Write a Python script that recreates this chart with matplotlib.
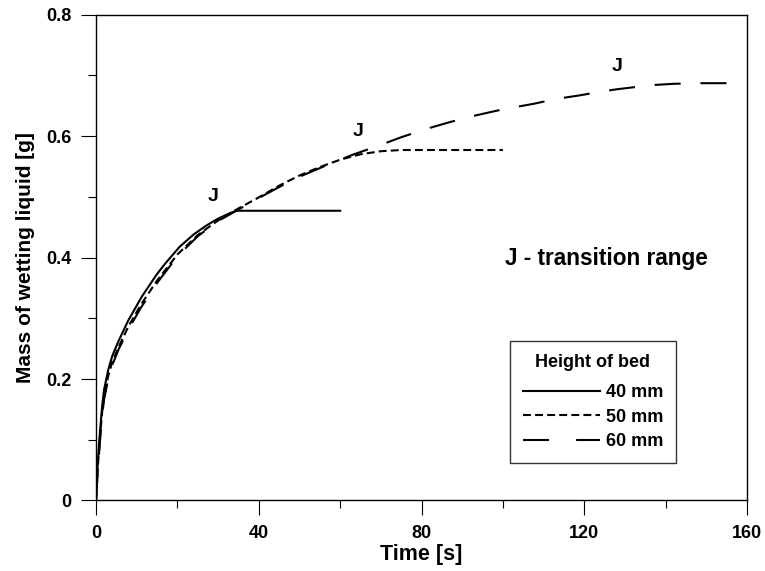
import matplotlib
matplotlib.use("Agg")
import matplotlib.pyplot as plt
from matplotlib.ticker import MultipleLocator, FuncFormatter
from matplotlib.lines import Line2D

plt.rcParams["font.family"] = ["Liberation Sans", "DejaVu Sans"]
plt.rcParams["font.weight"] = "bold"

# Data
t_40 = [0, 0.5, 1, 1.5, 2, 3, 4, 5.5, 7.9, 11.2, 14.9, 17, 20.6, 24, 27.2, 30, 32.9, 34.5,
        40, 50, 60]
m_40 = [0, 0.07, 0.115, 0.155, 0.183, 0.215, 0.238, 0.262, 0.296, 0.335, 0.372, 0.39, 0.418,
        0.438, 0.453, 0.464, 0.473, 0.477, 0.477, 0.477, 0.477]

t_50 = [0, 0.5, 1, 1.5, 2, 3, 4, 5.5, 8, 11, 15, 20, 25, 30, 33.7, 40, 45.2, 50, 55, 60,
        65, 70, 75, 85, 100]
m_50 = [0, 0.06, 0.105, 0.145, 0.172, 0.205, 0.228, 0.252, 0.287, 0.322, 0.362, 0.405,
        0.437, 0.461, 0.476, 0.499, 0.519, 0.535, 0.549, 0.561, 0.57, 0.575, 0.577, 0.577,
        0.577]

t_60 = [0, 0.5, 1, 1.5, 2, 3, 4, 5.5, 8, 11, 15, 20, 25, 30, 35, 40, 45, 50, 56.7, 63,
        69.8, 75, 81.3, 87, 92.7, 100, 107.5, 113, 118.9, 124, 128, 133, 137, 142, 148, 155]
m_60 = [0, 0.055, 0.1, 0.14, 0.167, 0.2, 0.223, 0.248, 0.282, 0.317, 0.358, 0.402, 0.435,
        0.46, 0.479, 0.498, 0.516, 0.533, 0.552, 0.569, 0.585, 0.598, 0.612, 0.623, 0.633,
        0.644, 0.653, 0.661, 0.667, 0.673, 0.677, 0.681, 0.684, 0.686, 0.687, 0.687]

labels = ["40 mm", "50 mm", "60 mm"]

# "J" marks of the transition range
j_t = [28.8, 64.4, 128]
j_m = [0.5, 0.607, 0.715]

fig = plt.figure(figsize=(7.65, 5.71), dpi=100)
ax = fig.add_axes([0.1255, 0.1235, 0.851, 0.851])

lw = 1.5
short_dash = (0, (3.8, 2.0))
long_dash = (0, (12.5, 9.5))
ax.plot(t_40, m_40, color="black", lw=lw, linestyle="-")
ax.plot(t_50, m_50, color="black", lw=lw, linestyle=short_dash)
ax.plot(t_60, m_60, color="black", lw=lw, linestyle=long_dash)

for x, y in zip(j_t, j_m):
    ax.text(x, y, "J", fontsize=14, fontweight="bold", ha="center", va="center")

ax.text(100.5, 0.399, "J - transition range", fontsize=16.3, fontweight="bold",
        ha="left", va="center")

ax.set_xlim(0, 160)
ax.set_ylim(0, 0.8)
ax.xaxis.set_major_locator(MultipleLocator(40))
ax.xaxis.set_minor_locator(MultipleLocator(20))
ax.yaxis.set_major_locator(MultipleLocator(0.2))
ax.yaxis.set_minor_locator(MultipleLocator(0.1))
ax.yaxis.set_major_formatter(FuncFormatter(lambda v, p: "0" if abs(v) < 1e-9 else f"{v:.1f}"))
ax.tick_params(which="major", direction="out", length=11, width=0.8, pad=7, labelsize=13)
ax.tick_params(which="minor", direction="out", length=6, width=0.8)
for lab in ax.get_xticklabels() + ax.get_yticklabels():
    lab.set_fontweight("bold")
for s in ax.spines.values():
    s.set_linewidth(1.0)

ax.set_xlabel("Time [s]", fontsize=15.5, fontweight="bold", labelpad=1)
ax.set_ylabel("Mass of wetting liquid [g]", fontsize=15, fontweight="bold", labelpad=8)

# legend with the title a bit further from the entries
handles = [
    Line2D([], [], color="black", lw=lw, linestyle="-"),
    Line2D([], [], color="black", lw=lw, linestyle=short_dash),
    Line2D([], [], color="black", lw=lw, linestyle=(0, (12.5, 13))),
]
leg = ax.legend(handles, labels, title="Height of bed", loc="upper left",
                bbox_to_anchor=(0.636, 0.328), borderaxespad=0, frameon=True,
                fancybox=False, edgecolor="black", handlelength=4.3, handletextpad=0.3,
                labelspacing=0.42, borderpad=0.7, prop={"size": 13, "weight": "bold"},
                title_fontproperties={"size": 13, "weight": "bold"})
leg.get_frame().set_linewidth(1.0)
leg._legend_box.sep = 9.5

fig.savefig("out.png", dpi=100)
